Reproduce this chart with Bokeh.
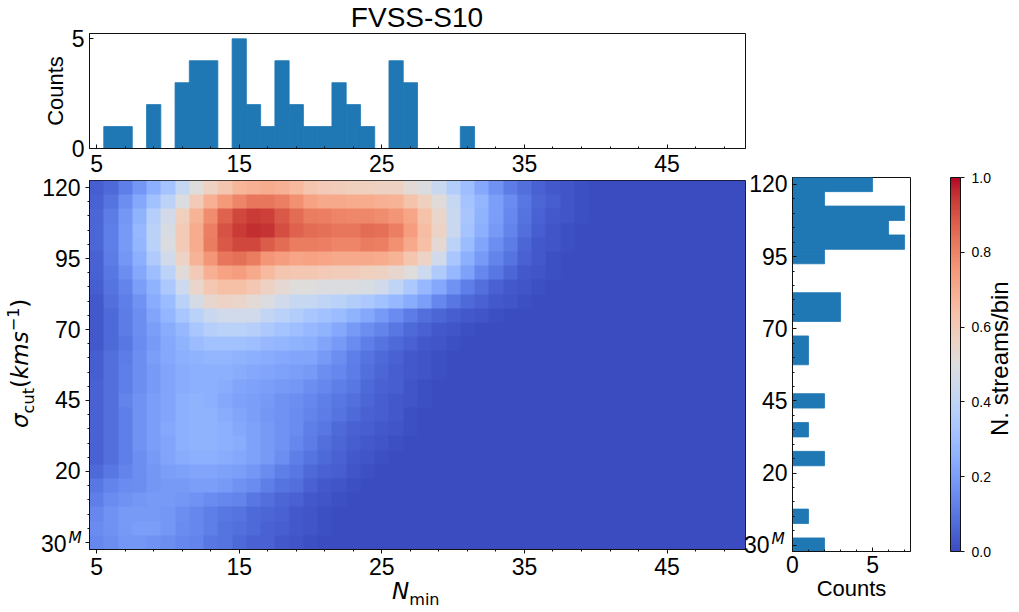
import numpy as np
from bokeh.embed import file_html
from bokeh.layouts import column, row
from bokeh.models import ColorBar, Div, FixedTicker, LinearColorMapper, PrintfTickFormatter
from bokeh.plotting import figure
from bokeh.resources import INLINE

# N_min bins, then sigma_cut bins (-5 is the "30^M" row)
n_min = list(range(5, 51))
sigma_cut = [120, 115, 110, 105, 100, 95, 90, 85, 80, 75, 70, 65, 60,
             55, 50, 45, 40, 35, 30, 25, 20, 15, 10, 5, 0, -5]

# N. streams/bin in percent, one row per sigma_cut, from N_min = 5 on; anything not listed is 0
heat_120 = [4,7,12,18,25,32,42,50,57,62,67,69,70,69,66,62,60,59,58,58,57,57,52,49,43,36,30,23,17,11,8,5,3,2,1]
heat_115 = [5,9,16,23,31,39,49,60,69,75,80,83,83,81,77,73,71,71,70,70,69,68,63,58,51,42,32,27,20,15,10,6,4,2,1]
heat_110 = [6,11,18,26,37,46,58,68,78,87,92,94,93,89,85,82,81,80,79,79,78,76,72,63,55,43,33,26,20,14,9,5,3,2,1]
heat_105 = [6,12,19,28,38,48,60,70,81,90,94,96,95,91,87,85,84,83,83,85,84,81,74,65,56,43,32,25,19,13,8,4,2,1]
heat_100 = [6,12,19,27,38,49,60,70,82,89,92,92,88,85,82,82,81,80,80,82,81,77,71,64,53,39,29,22,16,11,6,3,2,1]
heat_095 = [5,11,18,25,35,45,56,68,76,83,84,82,76,74,72,73,72,71,71,71,70,68,62,56,45,33,25,19,13,9,5,3,1]
heat_090 = [5,10,16,23,30,39,51,60,69,73,74,71,66,62,61,61,60,59,59,58,57,54,50,44,35,28,21,14,10,6,3,2,1]
heat_085 = [4,9,13,20,26,34,44,55,61,64,64,61,57,53,50,50,49,49,49,48,45,40,34,28,23,17,12,8,5,3,2,1]
heat_080 = [3,8,12,17,24,29,38,47,54,56,55,52,49,45,42,42,40,38,36,34,31,28,24,20,14,10,7,5,3,2,1]
heat_075 = [3,7,11,16,22,27,33,38,43,45,46,45,41,38,36,33,31,29,26,23,19,15,11,8,6,4,3,2,1]
heat_070 = [3,7,11,16,20,24,28,33,37,38,38,37,34,32,30,28,26,23,19,16,13,10,7,5,3,2,1]
heat_065 = [3,7,10,15,19,23,26,29,31,31,31,30,28,27,26,25,22,19,15,12,9,7,5,3,2,1]
heat_060 = [4,8,11,16,20,23,25,26,27,27,26,25,24,23,22,22,19,16,12,9,7,5,3,2,1]
heat_055 = [4,8,12,16,19,22,24,25,25,25,24,23,22,21,20,19,16,14,11,8,6,4,3,2,1]
heat_050 = [5,8,12,16,19,22,24,25,25,24,22,21,20,19,18,16,14,12,10,7,5,4,2,1]
heat_045 = [5,8,13,17,20,22,25,26,25,23,21,20,19,17,16,14,12,10,8,6,4,3,2,1]
heat_040 = [5,8,12,17,20,22,25,26,26,24,22,20,18,17,15,13,11,9,7,5,4,3,1]
heat_035 = [5,8,12,17,20,23,25,26,26,25,23,21,19,17,15,12,10,7,5,4,3,2,1]
heat_030 = [5,8,12,17,20,22,25,26,26,25,24,21,19,17,14,11,8,6,4,3,2,1]
heat_025 = [5,8,12,16,19,22,24,25,25,24,23,21,19,16,12,9,7,5,3,2,1]
heat_020 = [7,10,13,16,18,20,21,22,22,21,20,18,15,12,10,7,5,4,2,1]
heat_015 = [10,13,15,16,18,19,19,20,20,19,17,15,12,9,8,5,3,2,1]
heat_010 = [12,15,17,18,19,19,18,17,15,14,13,10,8,6,5,3,2,1]
heat_005 = [14,17,19,19,19,18,16,14,12,10,9,7,6,5,3,2,1]
heat_000 = [15,17,19,20,20,18,15,14,12,9,8,7,5,4,3,2,1]
heat_m05 = [14,16,18,18,17,16,14,13,10,9,7,5,5,3,2,1]

heat_rows = [heat_120, heat_115, heat_110, heat_105, heat_100, heat_095, heat_090,
             heat_085, heat_080, heat_075, heat_070, heat_065, heat_060, heat_055,
             heat_050, heat_045, heat_040, heat_035, heat_030, heat_025, heat_020,
             heat_015, heat_010, heat_005, heat_000, heat_m05]

# marginal histograms
nmin_bins = [6, 7, 9, 11, 12, 13, 15, 16, 17, 18, 19, 20, 21, 22, 23, 24, 26, 27, 31]
nmin_counts = [1, 1, 2, 3, 4, 4, 5, 2, 1, 4, 2, 1, 1, 3, 2, 1, 4, 3, 1]
sigma_bins = [120, 115, 110, 105, 100, 95, 80, 75, 65, 60, 45, 35, 25, 5, -5]
sigma_counts = [5, 2, 7, 6, 7, 2, 3, 3, 1, 1, 2, 1, 2, 1, 2]

x_major = [5, 15, 25, 35, 45]
x_minor = [7, 9, 11, 13, 17, 19, 21, 23, 27, 29, 31, 33, 37, 39, 41, 43, 47, 49]
y_major = [120, 95, 70, 45, 20, -5]
y_minor = [115, 110, 105, 100, 90, 85, 80, 75, 65, 60, 55, 50, 40, 35, 30, 25, 15, 10, 5, 0]
cbar_ticks = [0.0, 0.2, 0.4, 0.6, 0.8, 1.0]

coolwarm = [(59,76,192),(68,90,204),(77,104,215),(87,117,225),(98,130,234),(108,142,241),
            (119,154,247),(130,165,251),(141,176,254),(152,185,255),(163,194,255),(174,201,253),
            (184,208,249),(194,213,244),(204,217,238),(213,219,230),(221,221,221),(229,216,209),
            (236,211,197),(241,204,185),(245,196,173),(247,187,160),(247,177,148),(247,166,135),
            (244,154,123),(241,141,111),(236,127,99),(229,112,88),(222,96,77),(213,80,66),
            (203,62,56),(192,40,47),(180,4,38)]
stops = np.linspace(0, 1, len(coolwarm))
levels = np.linspace(0, 1, 256)
palette = ["#%02x%02x%02x" % tuple(int(round(np.interp(l, stops, [c[i] for c in coolwarm]))) for i in range(3))
           for l in levels]

ARIAL = "Liberation Sans"
MATH = "DejaVu Sans"
BLUE = "#1f77b4"
INK = "#111111"


def style(p):
    p.grid.visible = False
    p.outline_line_color = INK
    p.outline_line_width = 1
    p.frame_align = False
    p.border_fill_color = None
    for ax in p.xaxis + p.yaxis:
        ax.axis_line_color = INK
        ax.major_tick_line_color = INK
        ax.minor_tick_line_color = INK
        ax.major_label_text_font = ARIAL
        ax.major_label_text_font_size = "23px"
        ax.major_label_text_color = "#000000"
        ax.axis_label_text_font = ARIAL
        ax.axis_label_text_font_size = "22px"
        ax.axis_label_text_font_style = "normal"
        ax.axis_label_text_color = "#000000"


def ticks_in(ax):
    ax.major_tick_in, ax.major_tick_out = 4, 0
    ax.minor_tick_in, ax.minor_tick_out = 2, 0


def ticks_out(ax):
    ax.major_tick_in, ax.major_tick_out = 0, 4
    ax.minor_tick_in, ax.minor_tick_out = 0, 2


# Labels outside the frame get clipped with the svg backend, so these are html on top of the page
def note(left, top, html, font=ARIAL, size=22, rotate=False, width=300, align="left"):
    styles = {"position": "absolute", "left": "%dpx" % left, "top": "%dpx" % top, "z-index": "10",
              "font-family": "'%s'" % font, "font-size": "%dpx" % size, "line-height": "1",
              "white-space": "nowrap", "color": "#000000", "text-align": align}
    if rotate:
        styles["transform"] = "rotate(-90deg)"
        styles["transform-origin"] = "0 0"
    return Div(text=html, width=width, height=size + 4, margin=0, styles=styles)


SUB = '<sub style="font-size:70%;line-height:0">'
SUP = '<sup style="font-size:70%;line-height:0">'
TICK_M = '30<sup style="font:italic 15.4px \'DejaVu Sans\';line-height:0;vertical-align:9px;margin-left:2px">M</sup>'

notes = [
    note(267, 4, "FVSS-S10", size=28, align="center"),
    note(392, 580, "<i>N</i>" + SUB + "min</sub>", font=MATH, size=23),
    note(9, 428, "<i>\u03c3</i>" + SUB + "cut</sub>(<i>kms</i>" + SUP + "\u22121</sup>)", font=MATH, size=23, rotate=True),
    note(41, 533, TICK_M, size=23, width=60),
    note(744, 534, TICK_M, size=23, width=60),
    note(988, 436, "N. streams/bin", size=24, rotate=True),
]

# top histogram
top = figure(width=746, height=178, x_range=(4.5, 50.5), y_range=(0, 5.24),
             output_backend="svg", toolbar_location=None,
             min_border_left=89, min_border_right=1, min_border_top=33, min_border_bottom=30)
top.vbar(x=nmin_bins, top=nmin_counts, width=1, fill_color=BLUE, line_color=BLUE, line_width=0.8)
style(top)
top.xaxis.ticker = FixedTicker(ticks=x_major, minor_ticks=x_minor)
top.yaxis.ticker = FixedTicker(ticks=[0, 5])
ticks_in(top.xaxis[0])
ticks_in(top.yaxis[0])
top.xaxis.major_label_standoff = 6
top.yaxis.major_label_standoff = 5
top.yaxis.axis_label = "Counts"
top.yaxis.axis_label_standoff = 1

# 2d map
grid = np.array([r + [0] * (len(n_min) - len(r)) for r in heat_rows], dtype=float) / 100
mapper = LinearColorMapper(palette=palette, low=0, high=1)

main = figure(width=746, height=440, x_range=(4.5, 50.5), y_range=(-7.5, 122.5),
              output_backend="svg", toolbar_location=None,
              min_border_left=89, min_border_right=1, min_border_top=10, min_border_bottom=61)
main.image(image=[grid[::-1]], x=4.5, y=-7.5, dw=46, dh=130, color_mapper=mapper)
style(main)
main.xaxis.ticker = FixedTicker(ticks=x_major, minor_ticks=x_minor)
main.yaxis.ticker = FixedTicker(ticks=y_major, minor_ticks=y_minor)
main.yaxis.major_label_overrides = {-5: " "}
ticks_out(main.xaxis[0])
ticks_out(main.yaxis[0])
main.xaxis.major_label_standoff = 4
main.yaxis.major_label_standoff = 5

# right histogram + colour bar
side = figure(width=270, height=440, x_range=(0, 7.37), y_range=(-7.2, 122.4),
              output_backend="svg", toolbar_location=None,
              min_border_left=43, min_border_right=106, min_border_top=7, min_border_bottom=59)
side.hbar(y=sigma_bins, right=sigma_counts, height=5, fill_color=BLUE, line_color=BLUE, line_width=0.8)
style(side)
side.xaxis.ticker = FixedTicker(ticks=[0, 5], minor_ticks=[1, 2, 3, 4, 6, 7])
side.yaxis.ticker = FixedTicker(ticks=y_major, minor_ticks=y_minor)
side.yaxis.major_label_overrides = {-5: " "}
ticks_in(side.xaxis[0])
ticks_in(side.yaxis[0])
side.xaxis.major_label_standoff = 4
side.yaxis.major_label_standoff = 5
side.xaxis.axis_label = "Counts"
side.xaxis.axis_label_standoff = 0

cbar = ColorBar(color_mapper=mapper, ticker=FixedTicker(ticks=cbar_ticks), width=10, height=374,
                location=(40, 0), margin=0, padding=0, bar_line_color=INK,
                major_tick_in=0, major_tick_out=4, major_tick_line_color=INK,
                formatter=PrintfTickFormatter(format="%.1f"),
                major_label_text_font=ARIAL, major_label_text_font_size="14px",
                major_label_text_color="#000000", label_standoff=7)
side.add_layout(cbar, "right")

page = column(top, row(main, side, spacing=0, margin=(-8, 0, 0, 0)), *notes, spacing=0)
open("out.html", "w").write(file_html(page, INLINE))
